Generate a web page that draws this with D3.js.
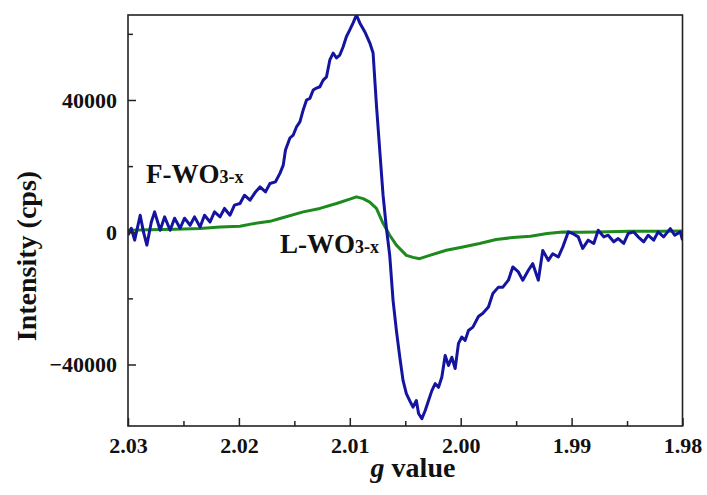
<!DOCTYPE html>
<html><head><meta charset="utf-8">
<script src="https://cdn.jsdelivr.net/npm/d3@7"></script>
<style>body{margin:0;background:#fff;} svg{display:block;} svg text{font-family:"Liberation Serif","Times New Roman","DejaVu Serif",serif !important;font-weight:bold;fill:#111;}</style>
</head><body>
<svg id="c" width="707" height="495"></svg>
<script>
// F-WO3-x (blue) : g value / intensity (cps)
const fG = [2.0300,2.0297,2.0294,2.0289,2.0286,2.0283,2.0279,2.0276,2.0271,2.0267,2.0262,2.0258,2.0253,2.0249,2.0244,2.0240,2.0235,2.0231,2.0226,2.0222,2.0217,2.0213,2.0208,2.0204,2.0199,2.0195,2.0190,2.0185,2.0181,2.0176,2.0172,2.0167,2.0163,2.0160,2.0158,2.0154,2.0151,2.0148,2.0145,2.0142,2.0139,2.0136,2.0133,2.0130,2.0127,2.0124,2.0121,2.0118,2.0115,2.0112,2.0109,2.0106,2.0103,2.0100,2.0097,2.0094,2.0091,2.0086,2.0082,2.0079,2.0076,2.0073,2.0070,2.0067,2.0064,2.0061,2.0058,2.0055,2.0052,2.0049,2.0046,2.0043,2.0040,2.0038,2.0035,2.0032,2.0029,2.0026,2.0023,2.0020,2.0017,2.0014,2.0011,2.0008,2.0005,2.0002,1.9999,1.9996,1.9993,1.9989,1.9984,1.9980,1.9975,1.9971,1.9966,1.9962,1.9957,1.9953,1.9948,1.9944,1.9939,1.9935,1.9930,1.9926,1.9921,1.9917,1.9912,1.9908,1.9903,1.9899,1.9894,1.9890,1.9885,1.9880,1.9876,1.9871,1.9867,1.9862,1.9858,1.9853,1.9849,1.9844,1.9840,1.9835,1.9831,1.9826,1.9822,1.9817,1.9811,1.9807,1.9802,1.9800];
const fI = [-900,1200,-2400,5150,0,-3900,3000,6150,600,4650,600,4250,1200,4250,2100,4650,1600,5150,3100,6150,4650,7200,5150,8200,8700,11200,9700,12200,13700,12200,14750,15250,17800,20300,24850,28500,29400,31900,33400,37000,40000,40500,43000,43600,44000,46000,47000,52100,54200,52700,53600,56100,59200,61200,63300,65700,63300,60300,57300,54200,38500,24800,11200,1200,-7000,-20600,-29700,-37600,-44800,-48800,-50900,-52900,-50900,-54800,-56400,-53900,-50900,-47900,-45800,-46900,-43800,-37300,-40300,-37800,-41200,-33600,-31700,-32700,-29700,-28700,-25500,-24500,-22600,-18500,-16600,-16600,-14500,-10500,-12000,-14500,-11500,-9500,-14500,-5500,-8500,-6500,-7500,-4500,100,-400,-1400,-4900,-2400,-3400,600,-1400,-900,-2900,-1900,-3400,-400,100,-1400,-2900,-900,-2400,100,-1400,1100,-900,100,-2400];
// L-WO3-x (green)
const lG = [2.0300,2.0280,2.0258,2.0235,2.0217,2.0199,2.0187,2.0172,2.0163,2.0142,2.0127,2.0112,2.0100,2.0094,2.0088,2.0082,2.0076,2.0070,2.0064,2.0058,2.0049,2.0043,2.0037,2.0028,2.0013,1.9998,1.9983,1.9968,1.9953,1.9937,1.9922,1.9908,1.9892,1.9877,1.9847,1.9820,1.9800];
const lI = [600,750,900,1100,1600,1800,2600,3300,4150,6150,7200,8700,10000,10700,10150,9100,7200,2700,-900,-3900,-7000,-7600,-8000,-7000,-5450,-4450,-3400,-2200,-1600,-1200,-400,100,0,100,300,300,400];
const xTicks = [2.03,2.02,2.01,2.00,1.99,1.98];
const xMinor = [2.025,2.015,2.005,1.995,1.985];
const yTicks = [-40000,0,40000];
const yMinor = [-20000,20000,60000];

const L=128, R=682.5, T=15, B=426;
const svg = d3.select("#c");
const x = d3.scaleLinear().domain([2.03,1.98]).range([L,R]);
const y = d3.scaleLinear().domain([-58600,65700]).range([B,T]);

svg.append("clipPath").attr("id","pc").append("rect")
  .attr("x",L).attr("y",T).attr("width",R-L).attr("height",B-T);

const line = d3.line().x(d=>x(d[0])).y(d=>y(d[1]));
const g = svg.append("g").attr("clip-path","url(#pc)");
g.append("path").datum(lG.map((v,i)=>[v,lI[i]]))
  .attr("d",line).attr("fill","none").attr("stroke","#1e8a1e").attr("stroke-width",3).attr("stroke-linejoin","round");
g.append("path").datum(fG.map((v,i)=>[v,fI[i]]))
  .attr("d",line).attr("fill","none").attr("stroke","#1414a0").attr("stroke-width",3).attr("stroke-linejoin","round");

// frame
svg.append("rect").attr("x",L).attr("y",T).attr("width",R-L).attr("height",B-T)
  .attr("fill","none").attr("stroke","#222").attr("stroke-width",1.6);

// x axis
const xa = svg.append("g").attr("transform",`translate(0,${B})`)
  .call(d3.axisBottom(x).tickValues(xTicks).tickSizeInner(-8).tickSizeOuter(0).tickFormat(d3.format(".2f")));
xa.select(".domain").remove();
xa.selectAll("line").attr("stroke","#222").attr("stroke-width",1.5);
xa.selectAll("text").attr("font-size",22).attr("y",27).attr("dy",0);
const xm = svg.append("g").attr("transform",`translate(0,${B})`)
  .call(d3.axisBottom(x).tickValues(xMinor).tickSizeInner(-5).tickSizeOuter(0).tickFormat(""));
xm.select(".domain").remove();
xm.selectAll("line").attr("stroke","#222").attr("stroke-width",1.5);

// y axis
const ya = svg.append("g").attr("transform",`translate(${L},0)`)
  .call(d3.axisLeft(y).tickValues(yTicks).tickSizeInner(-8).tickSizeOuter(0).tickFormat(d3.format("d")));
ya.select(".domain").remove();
ya.selectAll("line").attr("stroke","#222").attr("stroke-width",1.5);
ya.selectAll("text").attr("font-size",22).attr("x",-11).attr("dy","0.34em");
const ym = svg.append("g").attr("transform",`translate(${L},0)`)
  .call(d3.axisLeft(y).tickValues(yMinor).tickSizeInner(-5).tickSizeOuter(0).tickFormat(""));
ym.select(".domain").remove();
ym.selectAll("line").attr("stroke","#222").attr("stroke-width",1.5);

// axis titles
svg.append("text").attr("transform","translate(36,256) rotate(-90)")
  .attr("text-anchor","middle").attr("font-size",28).text("Intensity (cps)");
const xt = svg.append("text").attr("x",413).attr("y",477).attr("text-anchor","middle").attr("font-size",28);
xt.append("tspan").attr("font-style","italic").text("g");
xt.append("tspan").text(" value");

// labels
function lab(px,py,main,sub){
  const t = svg.append("text").attr("x",px).attr("y",py);
  t.append("tspan").attr("font-size",27).text(main);
  t.append("tspan").attr("font-size",18).text(sub);
}
lab(146,183,"F-WO","3-x");
lab(280,253,"L-WO","3-x");
</script>
</body></html>
